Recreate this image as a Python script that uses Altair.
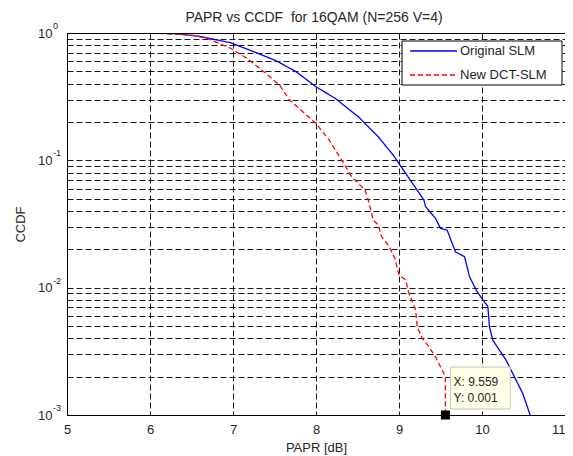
import altair as alt
import pandas as pd

series_names = ["Original SLM", "New DCT-SLM"]
series_colors = ["#0000ff", "#ff0000"]

slm_x = [5.77, 6.30, 6.58, 6.97, 7.25, 7.52, 7.76, 8.00, 8.23, 8.51, 8.75, 8.93,
         9.30, 9.32, 9.44, 9.50, 9.58, 9.68, 9.79, 9.85, 9.93, 10.01, 10.07, 10.09,
         10.13, 10.29, 10.49, 10.58]
slm_y = [1.0, 0.99, 0.946, 0.839, 0.713, 0.605, 0.497, 0.378, 0.307, 0.220, 0.153, 0.110,
         0.0488, 0.0433, 0.0350, 0.0292, 0.0283, 0.0191, 0.0175, 0.0122, 0.00957, 0.0080,
         0.00716, 0.00493, 0.00387, 0.00270, 0.00148, 0.001]

dct_x = [6.01, 6.49, 6.69, 6.97, 7.17, 7.37, 7.56, 7.68, 7.84, 8.00, 8.16, 8.31, 8.43,
         8.59, 8.63, 8.69, 8.75, 8.79, 8.87, 8.95, 9.00, 9.08, 9.12, 9.20, 9.22, 9.28,
         9.36, 9.44, 9.52, 9.559, 9.559]
dct_y = [1.0, 0.964, 0.908, 0.759, 0.632, 0.497, 0.391, 0.298, 0.241, 0.195, 0.144,
         0.1005, 0.0743, 0.0585, 0.0488, 0.0340, 0.0310, 0.0251, 0.0216, 0.0170, 0.01256,
         0.01148, 0.00902, 0.00667, 0.00493, 0.0040, 0.00344, 0.00286, 0.00225, 0.0020, 0.001]

x_ticks = [5, 6, 7, 8, 9, 10, 11]
decade_exps = [0, -1, -2, -3]
exp_labels = ["0", "-1", "-2", "-3"]
minor_mult = [1, 2, 3, 4, 5, 6, 7, 8, 9]

tip_x = 9.559
tip_y = 0.001
tip_lines = ["X: 9.559", "Y: 0.001"]
tip_box_x = [9.621, 10.34]
tip_box_y = [0.00238, 0.001114]
tip_text_y = [0.001816, 0.001359]

FONT = "Liberation Sans"
TXT = "#262626"
W, H = 498, 382

rows = []
for name, xs_, ys_ in [(series_names[0], slm_x, slm_y), (series_names[1], dct_x, dct_y)]:
    for i, (a, b) in enumerate(zip(xs_, ys_)):
        rows.append({"series": name, "x": a, "y": b, "order": i})
df = pd.DataFrame(rows)

y_grid = sorted({m * 10.0 ** e for e in [-3, -2, -1] for m in minor_mult} | {1.0})

xscale = alt.Scale(domain=[5, 11], nice=False, zero=False)
yscale = alt.Scale(type="log", domain=[0.001, 1], nice=False)

grid_kw = dict(grid=True, gridColor="black", gridDash=[6, 3], gridWidth=1, gridOpacity=0.9,
               ticks=False, domainColor="black", domainWidth=1, labelFont=FONT, titleFont=FONT,
               labelFontSize=13, titleFontSize=13, labelColor=TXT, titleColor=TXT,
               titleFontWeight="normal", labelOverlap=False)

lines = alt.Chart(df).mark_line(clip=True, strokeWidth=1.3).encode(
    x=alt.X("x:Q", scale=xscale,
            axis=alt.Axis(values=x_ticks, title="PAPR [dB]", labelPadding=8, titlePadding=5,
                          format="d", labelFlush=False,
                          labelAlign=alt.expr("datum.value >= 11 ? 'right' : 'center'"),
                          **grid_kw)),
    y=alt.Y("y:Q", scale=yscale,
            axis=alt.Axis(values=y_grid, title="CCDF", labelPadding=15, titlePadding=10,
                          labelExpr="abs(log(datum.value)/LN10 - round(log(datum.value)/LN10)) < 0.001 ? '10' : ''",
                          **grid_kw)),
    color=alt.Color("series:N", scale=alt.Scale(domain=series_names, range=series_colors), legend=None),
    strokeDash=alt.StrokeDash("series:N", scale=alt.Scale(domain=series_names, range=[[1, 0], [5, 3]]),
                              legend=None),
    order="order:Q",
)

one = pd.DataFrame({"k": [0]})
top_border = alt.Chart(one).mark_rule(color="black", strokeWidth=1).encode(
    x=alt.value(0), x2=alt.value(W), y=alt.value(0.5))

exp_df = pd.DataFrame({"y": [10.0 ** e for e in decade_exps], "label": exp_labels})
exps = alt.Chart(exp_df).mark_text(align="left", baseline="middle", dy=-7, fontSize=9,
                                   font=FONT, color=TXT).encode(
    x=alt.value(-14), y=alt.Y("y:Q", scale=yscale), text="label:N")

# legend box
leg_box = alt.Chart(one).mark_rect(fill="white", stroke="black", strokeWidth=1).encode(
    x=alt.value(335), x2=alt.value(495), y=alt.value(8), y2=alt.value(52))
leg_layers = [leg_box]
dashes = [[1, 0], [5, 3]]
for i, name in enumerate(series_names):
    ypix = 18 + 24 * i
    d = pd.DataFrame({"series": [name]})
    leg_layers.append(alt.Chart(d).mark_rule(color=series_colors[i], strokeDash=dashes[i],
                                             strokeWidth=1.3).encode(
        x=alt.value(343), x2=alt.value(390), y=alt.value(ypix)))
    leg_layers.append(alt.Chart(d).mark_text(align="left", baseline="middle", fontSize=13,
                                             font=FONT, color=TXT).encode(
        x=alt.value(393), y=alt.value(ypix), text="series:N"))

# datatip
box_df = pd.DataFrame({"x": [tip_box_x[0]], "x2": [tip_box_x[1]], "y": [tip_box_y[0]], "y2": [tip_box_y[1]]})
tip_box = alt.Chart(box_df).mark_rect(fill="#ffffe6", stroke="#c8c8b0", strokeWidth=1).encode(
    x=alt.X("x:Q", scale=xscale), x2="x2:Q", y=alt.Y("y:Q", scale=yscale), y2="y2:Q")
txt_df = pd.DataFrame({"x": [tip_box_x[0], tip_box_x[0]], "y": tip_text_y, "label": tip_lines})
tip_text = alt.Chart(txt_df).mark_text(align="left", baseline="middle", dx=3, fontSize=12,
                                       font=FONT, color=TXT).encode(
    x=alt.X("x:Q", scale=xscale), y=alt.Y("y:Q", scale=yscale), text="label:N")
pt_df = pd.DataFrame({"x": [tip_x], "y": [tip_y]})
tip_pt = alt.Chart(pt_df).mark_point(shape="square", filled=True, size=81, color="black",
                                     opacity=1).encode(
    x=alt.X("x:Q", scale=xscale), y=alt.Y("y:Q", scale=yscale))

chart = alt.layer(lines, top_border, exps, *leg_layers, tip_box, tip_text, tip_pt).properties(
    width=W, height=H,
    autosize=alt.AutoSizeParams(type="none"),
    padding={"left": 59, "top": 25, "right": 0, "bottom": 41},
    background="white",
    title=alt.TitleParams("PAPR vs CCDF \u00a0for 16QAM (N=256 V=4)", fontSize=14, font=FONT,
                          fontWeight="normal", color=TXT, dx=-2, offset=-3),
).configure_view(stroke=None)

chart.save("out.html", embed_options={"renderer": "svg", "actions": False})
